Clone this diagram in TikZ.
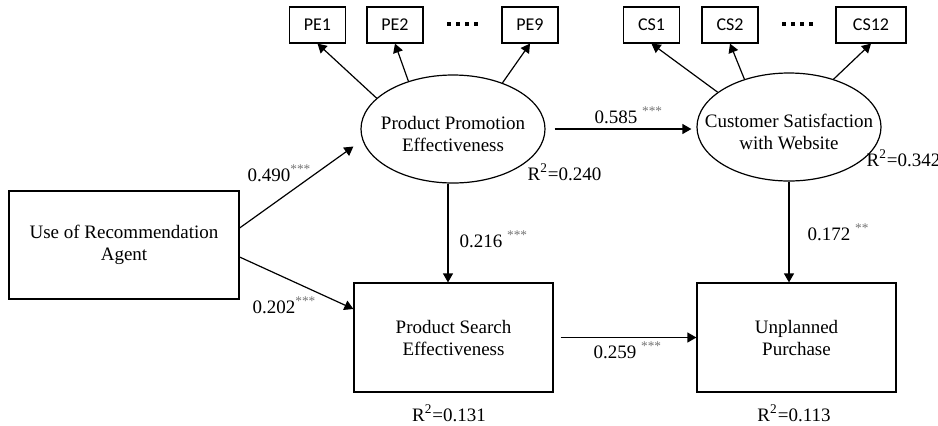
\documentclass[tikz,border=0pt]{standalone}
\usepackage{fontspec}
\setmainfont{Liberation Serif}
\newfontfamily\itemfont{Carlito}
\usetikzlibrary{arrows.meta,shapes.geometric}
\newcommand{\stars}[1]{\textcolor{black!55}{\textsuperscript{#1}}}
\newcommand{\rsq}[1]{R\textsuperscript{2}=#1}

\begin{document}
\begin{tikzpicture}[x=0.5pt,y=-0.5pt,line width=0.6pt,>={Triangle[length=4.5pt,width=5pt]}]
\tikzset{item/.style={draw,font=\itemfont\fontsize{9}{10}\selectfont,minimum width=28pt,minimum height=18pt,inner sep=2pt},
latent/.style={draw,ellipse,minimum width=92pt,minimum height=54pt,inner sep=0pt},
inlatent/.style={align=center,yshift=-2.5pt,font=\fontsize{9.5}{11}\selectfont},
observed/.style={draw,minimum height=54.5pt,align=center,font=\fontsize{9.5}{11}\selectfont},
coef/.style={inner sep=0pt,font=\fontsize{9.5}{11}\selectfont}
}
\useasboundingbox (0,0) rectangle (938,425);
% indicators
\node[item] (pe1) at (317.5,25) {PE1};
\node[item] (pe2) at (395,25) {PE2};
\node[item] (pe9) at (530,25) {PE9};
\node[item] (cs1) at (651.5,25) {CS1};
\node[item] (cs2) at (730,25) {CS2};
\node[item,minimum width=35pt] (cs12) at (871,25) {CS12};
\foreach \x in {447,456,465,474,782,791,800,809}
  \fill (\x,22) rectangle +(4,4);
% constructs
\node[latent,label={[inlatent]center:Product Promotion\\Effectiveness}] (pe) at (453,129) {};
\node[latent,label={[inlatent]center:Customer Satisfaction\\with Website}] (cs) at (789,127) {};
\node[observed,minimum width=115pt,minimum height=54pt] (ura) at (124,245) {Use of Recommendation\\Agent};
\node[observed,minimum width=99.5pt] (pse) at (453.5,337.5) {Product Search\\Effectiveness};
\node[observed,minimum width=99.5pt] (up) at (796.5,337.5) {Unplanned\\Purchase};
% paths
\draw[->] (pe.158) -- (pe1.south);
\draw[->] (pe.133) -- (pe2.south);
\draw[->] (pe.43) -- (pe9.south);
\draw[->] (cs.154) -- (cs1.south);
\draw[->] (cs.133) -- (cs2.south);
\draw[->] (cs.47) -- (cs12.south);
\draw[->,shorten >=5.5pt] ([yshift=8.5pt]ura.east) -- (pe.187);
\draw[->] ([yshift=-6pt]ura.east) -- ([yshift=14.25pt]pse.west);
\draw[->] ([xshift=-2.5pt]pe.south) -- ([xshift=-2.5pt]pe.south |- pse.north);
\draw[->,shorten <=4.5pt,shorten >=2.5pt] (pe.east) -- (pe.east -| cs.west);
\draw[->] (cs.south) -- (cs.south |- up.north);
\draw[->,shorten <=3.5pt] (pse.east) -- (up.west);
% coefficients
\node[coef,anchor=west] (c490) at (247,173) {0.490\stars{***}};
\node[coef,anchor=west] (c202) at (252,305) {0.202\stars{***}};
\node[coef,anchor=west] (c216) at (459,239) {0.216 \stars{***}};
\node[coef,anchor=west] (c585) at (594,115) {0.585 \stars{***}};
\node[coef,anchor=west] (c172) at (807,232) {0.172 \stars{**}};
\node[coef,anchor=west] (c259) at (593,350) {0.259 \stars{***}};
\node[coef,anchor=west] (r240) at (527,172) {\rsq{0.240}};
\node[coef,anchor=west] (r342) at (866,158) {\rsq{0.342}};
\node[coef] (r131) at (449,413) {\rsq{0.131}};
\node[coef] (r113) at (794,413) {\rsq{0.113}};
\end{tikzpicture}
\end{document}
